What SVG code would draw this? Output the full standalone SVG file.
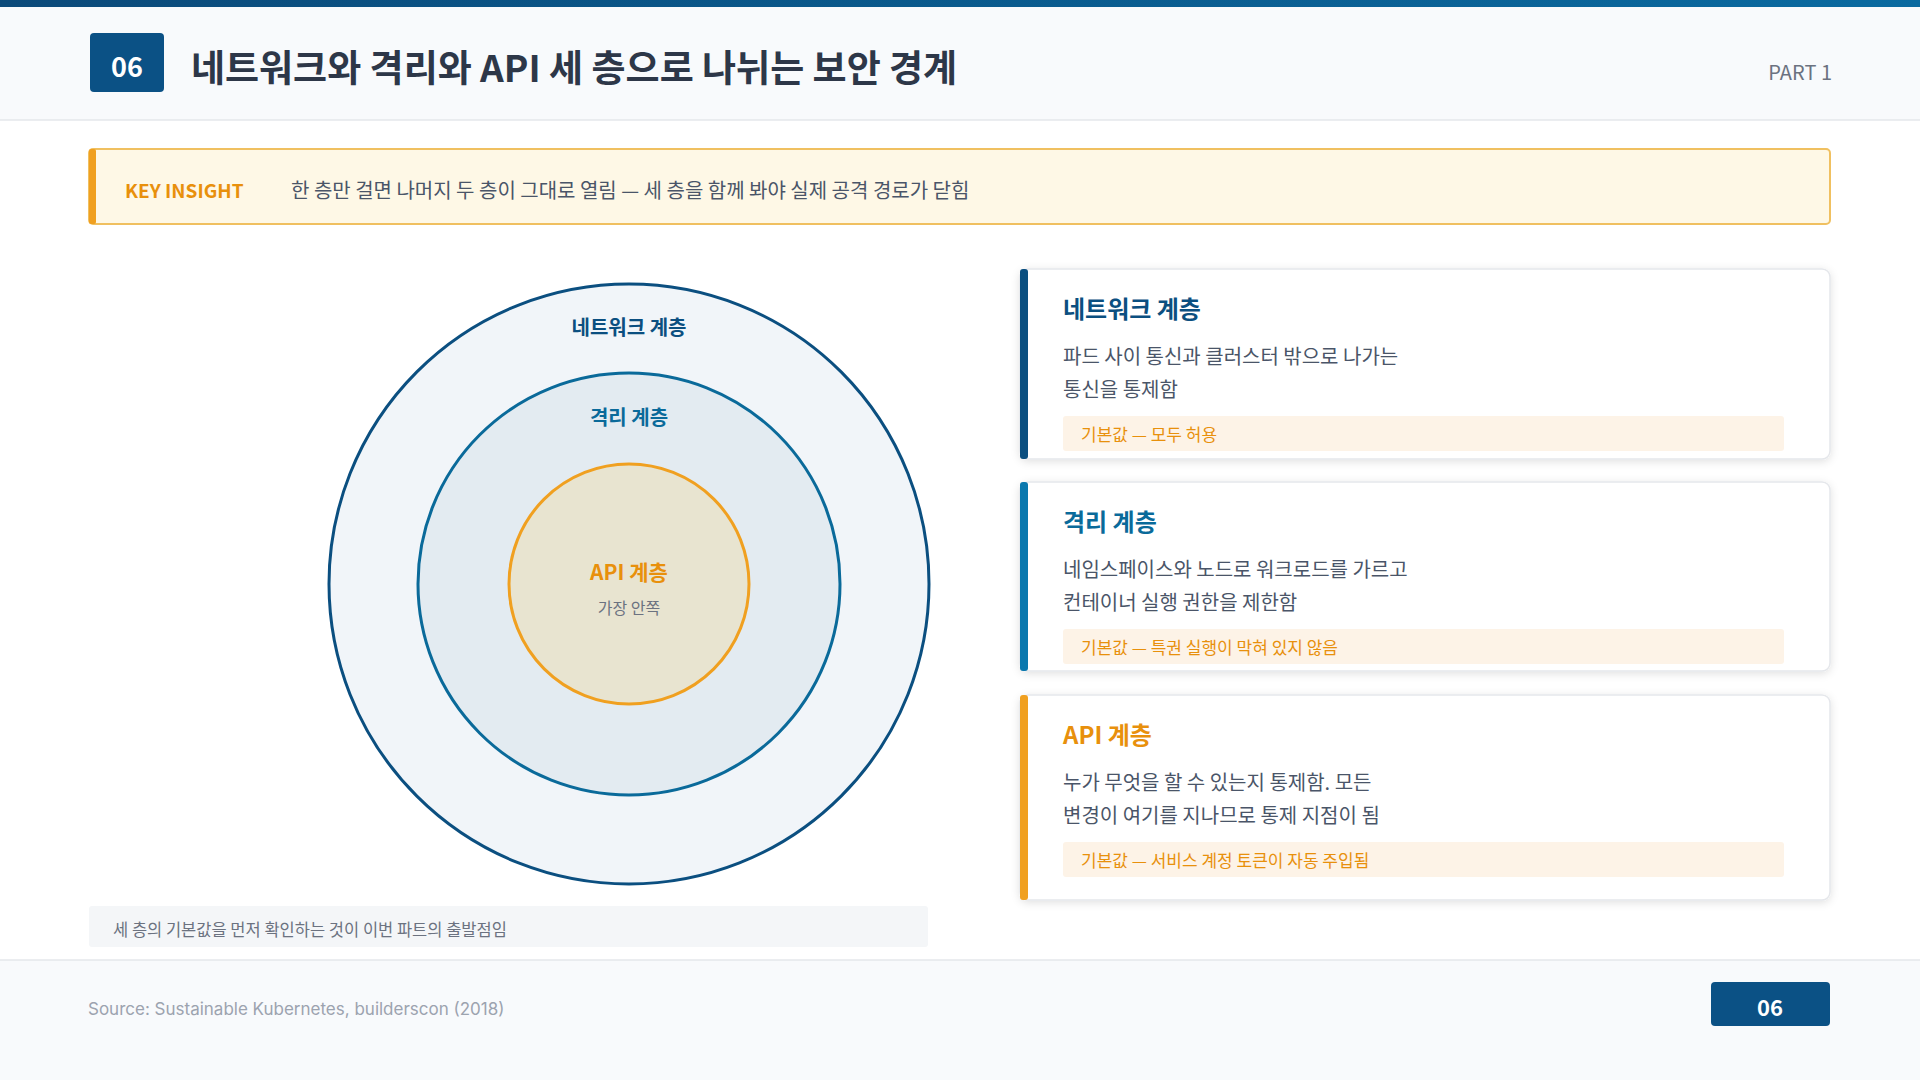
<svg xmlns="http://www.w3.org/2000/svg" width="1920" height="1080" viewBox="0 0 1920 1080">
<defs>
<linearGradient id="tb" x1="0" x2="1"><stop offset="0" stop-color="#0b4a7a"/><stop offset="1" stop-color="#0a6aa0"/></linearGradient>
<filter id="sh" x="-5%" y="-10%" width="110%" height="125%"><feDropShadow dx="0" dy="2" stdDeviation="4" flood-color="#000" flood-opacity="0.12"/></filter>
</defs>
<style>
text{font-family:"Noto Sans CJK KR","Noto Sans",sans-serif}
.b{font-weight:700}
.desc{font-size:20px;fill:#4a5568}
.tag{font-size:17px;fill:#e8900c}
.tagbox{fill:#fdf3e7}
.card{fill:#fff;stroke:#e5e7eb;stroke-width:1.5}
</style>
<rect width="1920" height="1080" fill="#fff"/>
<rect width="1920" height="120" fill="#f8fafc"/>
<rect width="1920" height="7" fill="url(#tb)"/>
<line x1="0" y1="120" x2="1920" y2="120" stroke="#e5e7eb" stroke-width="1.5"/>
<g id="header">
<rect x="90" y="33" width="74" height="59" rx="4" fill="#0b5185"/>
<text x="127" y="77" text-anchor="middle" class="b" font-size="27" fill="#fff">06</text>
<text x="191" y="82" class="b" font-size="37" fill="#2d3748">네트워크와 격리와 API 세 층으로 나뉘는 보안 경계</text>
<text x="1832" y="80" text-anchor="end" font-size="20" fill="#6b7280">PART 1</text>
</g>
<g id="insight">
<rect x="89" y="149" width="1741" height="75" rx="4" fill="#fef8e6" stroke="#f0c060" stroke-width="2"/>
<rect x="89" y="149" width="7" height="75" rx="2" fill="#f0a020"/>
<text x="125" y="198" class="b" font-size="19" fill="#e8900c">KEY INSIGHT</text>
<text x="291" y="198" font-size="20" fill="#4a5568">한 층만 걸면 나머지 두 층이 그대로 열림 — 세 층을 함께 봐야 실제 공격 경로가 닫힘</text>
</g>
<g id="layers">
<circle cx="629" cy="584" r="300" fill="#f1f5f9" stroke="#0b4f80" stroke-width="3"/>
<circle cx="629" cy="584" r="211" fill="#e3ebf1" stroke="#0a6a9a" stroke-width="3"/>
<circle cx="629" cy="584" r="120" fill="#e8e4d0" stroke="#f0a020" stroke-width="3"/>
<text x="629" y="335" text-anchor="middle" class="b" font-size="20" fill="#0b4f80">네트워크 계층</text>
<text x="629" y="425" text-anchor="middle" class="b" font-size="20" fill="#0a6a9a">격리 계층</text>
<text x="629" y="580" text-anchor="middle" class="b" font-size="21" fill="#e8900c">API 계층</text>
<text x="629" y="614" text-anchor="middle" font-size="16" fill="#6b7280">가장 안쪽</text>
</g>
<g id="caption">
<rect x="89" y="906" width="839" height="41" rx="3" fill="#f4f6f8"/>
<text x="113" y="936" font-size="16.5" fill="#6b7280">세 층의 기본값을 먼저 확인하는 것이 이번 파트의 출발점임</text>
</g>
<g id="card-network">
<rect class="card" x="1020" y="269" width="810" height="190" rx="8" filter="url(#sh)"/>
<rect x="1020" y="269" width="8" height="190" rx="3" fill="#0b4f80"/>
<text x="1063" y="318" class="b" font-size="24" fill="#0b4f80">네트워크 계층</text>
<text x="1063" y="364" class="desc">파드 사이 통신과 클러스터 밖으로 나가는</text>
<text x="1063" y="397" class="desc">통신을 통제함</text>
<rect class="tagbox" x="1063" y="416" width="721" height="35" rx="3"/>
<text x="1081" y="441" class="tag">기본값 — 모두 허용</text>
</g>
<g id="card-isolation">
<rect class="card" x="1020" y="482" width="810" height="189" rx="8" filter="url(#sh)"/>
<rect x="1020" y="482" width="8" height="189" rx="3" fill="#0a78ae"/>
<text x="1063" y="531" class="b" font-size="24" fill="#0a6a9a">격리 계층</text>
<text x="1063" y="577" class="desc">네임스페이스와 노드로 워크로드를 가르고</text>
<text x="1063" y="610" class="desc">컨테이너 실행 권한을 제한함</text>
<rect class="tagbox" x="1063" y="629" width="721" height="35" rx="3"/>
<text x="1081" y="654" class="tag">기본값 — 특권 실행이 막혀 있지 않음</text>
</g>
<g id="card-api">
<rect class="card" x="1020" y="695" width="810" height="205" rx="8" filter="url(#sh)"/>
<rect x="1020" y="695" width="8" height="205" rx="3" fill="#f0a020"/>
<text x="1063" y="744" class="b" font-size="24" fill="#e8900c">API 계층</text>
<text x="1063" y="790" class="desc">누가 무엇을 할 수 있는지 통제함. 모든</text>
<text x="1063" y="823" class="desc">변경이 여기를 지나므로 통제 지점이 됨</text>
<rect class="tagbox" x="1063" y="842" width="721" height="35" rx="3"/>
<text x="1081" y="867" class="tag">기본값 — 서비스 계정 토큰이 자동 주입됨</text>
</g>
<g id="footer">
<rect x="0" y="960" width="1920" height="120" fill="#f8fafc"/>
<line x1="0" y1="960" x2="1920" y2="960" stroke="#e5e7eb" stroke-width="1.5"/>
<text x="88" y="1015" font-size="17" fill="#9ca3af" style="font-family:Inter,'Noto Sans',sans-serif">Source: Sustainable Kubernetes, builderscon (2018)</text>
<rect x="1711" y="982" width="119" height="44" rx="4" fill="#0b5185"/>
<text x="1770" y="1016" text-anchor="middle" class="b" font-size="22" fill="#fff">06</text>
</g>
</svg>
